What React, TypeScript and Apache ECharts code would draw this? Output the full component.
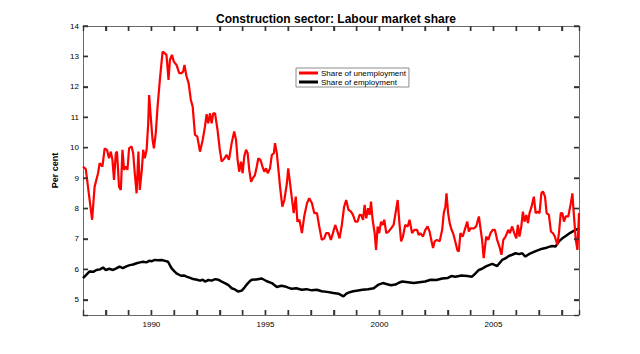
import React, { useEffect, useRef } from "react";
import * as echarts from "echarts";

const titleText = "Construction sector: Labour market share";
const yAxisName = "Per cent";
const seriesNames = ["Share of unemployment", "Share of employment"];

const xMin = 1987;
const xMax = 2008.75;
const yMin = 4.5;
const yMax = 14;
const xTickValues = [1988, 1989, 1990, 1991, 1992, 1993, 1994, 1995, 1996, 1997, 1998, 1999, 2000, 2001, 2002, 2003, 2004, 2005, 2006, 2007, 2008];
const yTickValues = [5, 6, 7, 8, 9, 10, 11, 12, 13, 14];
const xLabelEvery = 5;

const unemploymentShare: [number, number][] = [
  [1987.0, 9.38], [1987.12, 9.3], [1987.4, 7.63], [1987.51, 8.72], [1987.66, 9.16], [1987.73, 9.49],
  [1987.85, 9.38], [1987.95, 9.98], [1988.05, 9.93], [1988.14, 9.65], [1988.22, 9.87], [1988.29, 9.6],
  [1988.36, 8.94], [1988.44, 9.82], [1988.49, 9.87], [1988.58, 8.72], [1988.66, 8.61], [1988.73, 9.93],
  [1988.8, 9.27], [1988.88, 9.38], [1988.95, 9.27], [1989.02, 9.98], [1989.13, 10.04], [1989.2, 9.82],
  [1989.27, 9.16], [1989.35, 8.5], [1989.43, 9.87], [1989.49, 8.61], [1989.58, 9.27], [1989.64, 9.93],
  [1989.71, 9.65], [1989.79, 9.93], [1989.86, 10.8], [1989.9, 11.73], [1989.97, 11.02], [1990.05, 10.26],
  [1990.11, 9.98], [1990.19, 10.47], [1990.27, 11.35], [1990.37, 12.23], [1990.49, 13.16], [1990.59, 13.1],
  [1990.66, 13.05], [1990.75, 12.23], [1990.81, 12.88], [1990.9, 13.05], [1990.98, 12.83], [1991.1, 12.72],
  [1991.22, 12.45], [1991.32, 12.45], [1991.39, 12.5], [1991.45, 12.72], [1991.54, 12.34], [1991.63, 12.12],
  [1991.73, 11.57], [1991.81, 11.35], [1991.91, 10.42], [1992.01, 10.37], [1992.13, 9.87], [1992.25, 10.26],
  [1992.35, 10.7], [1992.42, 11.1], [1992.49, 10.8], [1992.57, 11.13], [1992.64, 10.8], [1992.71, 11.13],
  [1992.79, 11.13], [1992.9, 10.58], [1993.0, 9.93], [1993.08, 9.54], [1993.2, 9.65], [1993.3, 9.76],
  [1993.4, 9.6], [1993.52, 10.15], [1993.63, 10.53], [1993.71, 10.26], [1993.78, 9.6], [1993.85, 9.21],
  [1993.93, 9.54], [1994.0, 9.16], [1994.07, 9.71], [1994.15, 9.93], [1994.22, 9.82], [1994.29, 9.27],
  [1994.37, 8.88], [1994.44, 8.99], [1994.54, 9.1], [1994.62, 9.38], [1994.69, 9.65], [1994.78, 9.6],
  [1994.87, 9.38], [1994.95, 9.21], [1995.03, 9.32], [1995.1, 9.16], [1995.2, 9.32], [1995.28, 9.76],
  [1995.37, 9.82], [1995.42, 10.15], [1995.5, 9.82], [1995.57, 9.27], [1995.64, 8.72], [1995.74, 8.06],
  [1995.83, 8.28], [1995.94, 8.83], [1996.0, 9.32], [1996.08, 8.83], [1996.15, 8.39], [1996.24, 7.85],
  [1996.33, 8.39], [1996.4, 7.57], [1996.49, 7.63], [1996.6, 7.19], [1996.7, 7.74], [1996.82, 8.17],
  [1996.92, 8.34], [1997.04, 8.17], [1997.14, 7.85], [1997.26, 7.85], [1997.36, 7.41], [1997.47, 6.97],
  [1997.58, 7.02], [1997.66, 7.19], [1997.77, 7.19], [1997.87, 6.97], [1997.96, 7.19], [1998.06, 7.46],
  [1998.16, 7.24], [1998.25, 7.02], [1998.35, 7.46], [1998.45, 8.06], [1998.54, 8.28], [1998.64, 7.96],
  [1998.75, 7.9], [1998.84, 7.79], [1998.94, 7.57], [1999.04, 7.57], [1999.13, 7.79], [1999.2, 7.79],
  [1999.28, 7.63], [1999.35, 8.12], [1999.42, 7.68], [1999.5, 8.01], [1999.57, 7.79], [1999.63, 8.23],
  [1999.7, 7.63], [1999.79, 7.19], [1999.85, 6.64], [1999.92, 7.41], [1999.99, 7.19], [2000.07, 7.57],
  [2000.14, 7.46], [2000.21, 7.63], [2000.3, 7.19], [2000.4, 7.24], [2000.51, 7.35], [2000.62, 7.46],
  [2000.73, 7.96], [2000.8, 8.28], [2000.87, 7.57], [2000.95, 6.92], [2001.03, 7.08], [2001.13, 7.46],
  [2001.24, 7.41], [2001.32, 7.63], [2001.43, 7.19], [2001.53, 7.3], [2001.65, 7.3], [2001.72, 7.13],
  [2001.79, 7.19], [2001.91, 7.08], [2002.01, 7.3], [2002.11, 7.41], [2002.2, 7.24], [2002.27, 6.97],
  [2002.35, 6.7], [2002.42, 6.92], [2002.52, 6.97], [2002.64, 6.92], [2002.75, 7.3], [2002.82, 7.85],
  [2002.89, 8.06], [2002.94, 8.5], [2003.01, 7.85], [2003.08, 7.52], [2003.16, 7.3], [2003.23, 7.19],
  [2003.33, 6.9], [2003.42, 6.62], [2003.48, 6.59], [2003.55, 7.19], [2003.65, 7.08], [2003.74, 7.3],
  [2003.85, 7.57], [2003.92, 7.24], [2003.99, 7.35], [2004.14, 7.35], [2004.24, 7.41], [2004.36, 7.74],
  [2004.43, 7.35], [2004.5, 6.97], [2004.57, 6.37], [2004.68, 7.08], [2004.77, 6.97], [2004.87, 7.19],
  [2004.97, 7.3], [2005.06, 7.3], [2005.16, 6.97], [2005.26, 6.75], [2005.35, 6.48], [2005.43, 6.97],
  [2005.53, 7.08], [2005.65, 7.3], [2005.72, 7.19], [2005.82, 7.41], [2005.91, 7.19], [2006.0, 7.02],
  [2006.07, 7.46], [2006.14, 7.08], [2006.22, 7.41], [2006.29, 7.9], [2006.36, 7.57], [2006.44, 7.79],
  [2006.51, 7.52], [2006.58, 7.85], [2006.67, 8.06], [2006.77, 8.39], [2006.85, 7.85], [2006.94, 7.9],
  [2007.02, 7.85], [2007.1, 8.5], [2007.17, 8.56], [2007.26, 8.39], [2007.33, 7.85], [2007.43, 7.79],
  [2007.52, 7.24], [2007.61, 7.19], [2007.69, 7.08], [2007.8, 6.81], [2007.87, 7.19], [2007.95, 7.85],
  [2008.02, 7.85], [2008.09, 7.57], [2008.17, 7.74], [2008.28, 7.74], [2008.39, 8.17], [2008.46, 8.5],
  [2008.53, 7.74], [2008.61, 6.97], [2008.68, 6.64], [2008.72, 7.3], [2008.75, 7.85],
];

const employmentShare: [number, number][] = [
  [1987.0, 5.71], [1987.12, 5.8], [1987.29, 5.93], [1987.45, 5.92], [1987.59, 5.98], [1987.75, 6.0],
  [1987.88, 6.06], [1988.0, 5.98], [1988.15, 6.02], [1988.32, 5.98], [1988.46, 6.03], [1988.6, 6.09],
  [1988.75, 6.04], [1988.9, 6.1], [1989.05, 6.14], [1989.2, 6.16], [1989.35, 6.2], [1989.5, 6.23],
  [1989.64, 6.25], [1989.78, 6.23], [1989.9, 6.28], [1990.02, 6.27], [1990.15, 6.31], [1990.3, 6.3],
  [1990.45, 6.31], [1990.6, 6.28], [1990.73, 6.25], [1990.88, 6.04], [1991.0, 5.94], [1991.1, 5.87],
  [1991.3, 5.79], [1991.42, 5.8], [1991.54, 5.76], [1991.7, 5.72], [1991.83, 5.68], [1992.0, 5.66],
  [1992.13, 5.63], [1992.25, 5.66], [1992.35, 5.6], [1992.5, 5.65], [1992.64, 5.63], [1992.8, 5.68],
  [1992.93, 5.66], [1993.08, 5.6], [1993.22, 5.55], [1993.38, 5.48], [1993.52, 5.38], [1993.66, 5.34],
  [1993.81, 5.27], [1993.96, 5.3], [1994.08, 5.4], [1994.18, 5.5], [1994.3, 5.6], [1994.4, 5.66],
  [1994.6, 5.67], [1994.84, 5.7], [1995.06, 5.61], [1995.28, 5.55], [1995.5, 5.42], [1995.7, 5.46],
  [1995.86, 5.44], [1996.0, 5.4], [1996.15, 5.36], [1996.35, 5.38], [1996.59, 5.33], [1996.8, 5.35],
  [1997.03, 5.31], [1997.25, 5.33], [1997.47, 5.28], [1997.7, 5.26], [1997.98, 5.22], [1998.2, 5.2],
  [1998.42, 5.11], [1998.55, 5.2], [1998.7, 5.25], [1998.85, 5.28], [1999.0, 5.3], [1999.25, 5.33],
  [1999.5, 5.35], [1999.75, 5.38], [1999.96, 5.5], [2000.15, 5.55], [2000.3, 5.52], [2000.5, 5.48],
  [2000.7, 5.5], [2000.85, 5.56], [2001.0, 5.6], [2001.25, 5.58], [2001.5, 5.55], [2001.75, 5.58],
  [2002.0, 5.6], [2002.25, 5.66], [2002.5, 5.65], [2002.75, 5.7], [2003.0, 5.72], [2003.15, 5.78],
  [2003.33, 5.76], [2003.6, 5.8], [2003.85, 5.78], [2004.06, 5.76], [2004.2, 5.86], [2004.36, 5.98],
  [2004.5, 6.02], [2004.65, 6.09], [2004.8, 6.14], [2004.95, 6.18], [2005.16, 6.11], [2005.28, 6.22],
  [2005.38, 6.31], [2005.52, 6.36], [2005.67, 6.44], [2005.82, 6.48], [2005.97, 6.53], [2006.12, 6.5],
  [2006.26, 6.53], [2006.4, 6.42], [2006.55, 6.5], [2006.7, 6.55], [2006.85, 6.6], [2006.99, 6.64],
  [2007.14, 6.68], [2007.28, 6.7], [2007.43, 6.74], [2007.58, 6.77], [2007.72, 6.75], [2007.87, 6.92],
  [2008.02, 7.02], [2008.17, 7.1], [2008.32, 7.18], [2008.46, 7.24], [2008.61, 7.3], [2008.75, 7.35],
];

const FONT = "'Liberation Sans', Arial, Helvetica, sans-serif";
const AXIS_GRAY = "#6a6a6a";
const TICK_GRAY = "#333333";
const TICK_LEN = 5;

export default function App() {
  const ref = useRef<HTMLDivElement>(null);

  useEffect(() => {
    if (!ref.current) return;
    const chart = echarts.init(ref.current, null, { renderer: "svg" });

    const renderXTick = (_params: any, api: any) => {
      const v = api.value(0);
      const b = api.coord([v, yMin]);
      const t = api.coord([v, yMax]);
      return {
        type: "group",
        children: [
          { type: "line", shape: { x1: b[0], y1: b[1], x2: b[0], y2: b[1] - TICK_LEN }, style: { stroke: TICK_GRAY, lineWidth: 1.4 } },
          { type: "line", shape: { x1: t[0], y1: t[1], x2: t[0], y2: t[1] + TICK_LEN }, style: { stroke: TICK_GRAY, lineWidth: 1.4 } },
        ],
      };
    };
    const renderYTick = (_params: any, api: any) => {
      const v = api.value(1);
      const l = api.coord([xMin, v]);
      const r = api.coord([xMax, v]);
      return {
        type: "group",
        children: [
          { type: "line", shape: { x1: l[0], y1: l[1], x2: l[0] + TICK_LEN, y2: l[1] }, style: { stroke: TICK_GRAY, lineWidth: 1.4 } },
          { type: "line", shape: { x1: r[0], y1: r[1], x2: r[0] - TICK_LEN, y2: r[1] }, style: { stroke: TICK_GRAY, lineWidth: 1.4 } },
        ],
      };
    };

    const makeLine = () => ({ show: true, onZero: false, lineStyle: { color: AXIS_GRAY, width: 1 } });
    const makeTick = () => ({ show: true, inside: true, length: TICK_LEN, lineStyle: { color: TICK_GRAY, width: 1.4 } });

    chart.setOption({
      animation: false,
      title: {
        text: titleText,
        left: 331,
        textAlign: "center",
        top: 8,
        textStyle: { fontFamily: FONT, fontSize: 12, fontWeight: "bold", color: "#000" },
      },
      legend: {
        orient: "vertical",
        left: 296,
        top: 68,
        padding: [1, 3, 1, 3],
        itemGap: 1,
        itemWidth: 19,
        itemHeight: 3,
        icon: "rect",
        borderColor: "#8c8c8c",
        borderWidth: 1,
        backgroundColor: "#fff",
        textStyle: { fontFamily: FONT, fontSize: 8, color: "#000", padding: [0, 0, 0, -2] },
        data: seriesNames,
      },
      grid: { left: 83, right: 61, top: 26, bottom: 39 },
      xAxis: [
        {
          type: "value",
          min: xMin,
          max: xMax,
          splitNumber: 22,
          position: "bottom",
          splitLine: { show: false },
          axisLine: makeLine(),
          axisTick: makeTick(),
          axisLabel: {
            show: true,
            fontFamily: FONT,
            fontSize: 8,
            color: "#000",
            margin: 5,
            formatter: (v: number) => (Math.abs(v % xLabelEvery) < 1e-9 ? String(v) : ""),
          },
        },
        {
          type: "value",
          min: xMin,
          max: xMax,
          splitNumber: 22,
          position: "top",
          splitLine: { show: false },
          axisLine: makeLine(),
          axisTick: makeTick(),
          axisLabel: { show: false },
        },
      ],
      yAxis: [
        {
          type: "value",
          min: yMin,
          max: yMax,
          splitNumber: 10,
          position: "left",
          splitLine: { show: false },
          axisLine: makeLine(),
          axisTick: makeTick(),
          name: yAxisName,
          nameLocation: "middle",
          nameGap: 14,
          nameRotate: 90,
          nameTextStyle: { fontFamily: FONT, fontSize: 9, fontWeight: "bold", color: "#000" },
          axisLabel: {
            show: true,
            fontFamily: FONT,
            fontSize: 8,
            color: "#000",
            margin: 4,
            formatter: (v: number) => (Number.isInteger(v) ? String(v) : ""),
          },
        },
        {
          type: "value",
          min: yMin,
          max: yMax,
          splitNumber: 10,
          position: "right",
          splitLine: { show: false },
          axisLine: makeLine(),
          axisTick: makeTick(),
          axisLabel: { show: false },
        },
      ],
      series: [
        {
          name: seriesNames[0],
          type: "line",
          data: unemploymentShare,
          showSymbol: false,
          symbol: "none",
          lineStyle: { color: "#ff0000", width: 2.2 },
          itemStyle: { color: "#ff0000" },
          z: 3,
        },
        {
          name: seriesNames[1],
          type: "line",
          data: employmentShare,
          showSymbol: false,
          symbol: "none",
          lineStyle: { color: "#000000", width: 2.5 },
          itemStyle: { color: "#000000" },
          z: 2,
        },
        {
          name: "xTicks",
          type: "custom",
          silent: true,
          clip: false,
          z: 5,
          renderItem: renderXTick,
          data: xTickValues.map((v) => [v, yMin]),
        },
        {
          name: "yTicks",
          type: "custom",
          silent: true,
          clip: false,
          z: 5,
          renderItem: renderYTick,
          data: yTickValues.map((v) => [xMin, v]),
        },
      ],
    });

    return () => chart.dispose();
  }, []);

  return (
    <div
      ref={ref}
      style={{ position: "fixed", left: 0, top: 0, width: 640, height: 354, background: "#fff" }}
    />
  );
}
